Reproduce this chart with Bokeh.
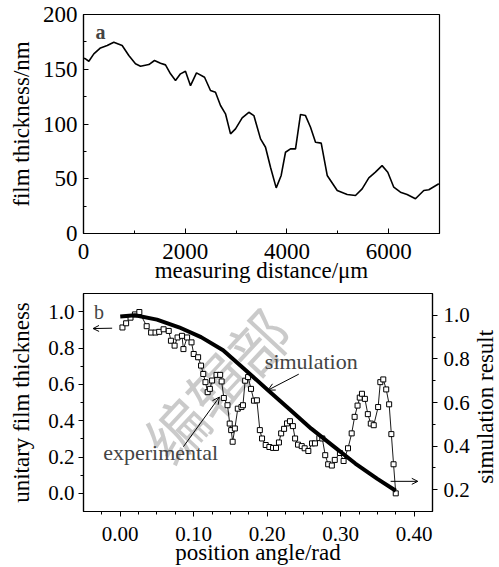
import math
from bokeh.plotting import figure
from bokeh.layouts import column, row
from bokeh.models import (Range1d, LinearAxis, Arrow, OpenHead, Label, FixedTicker,
                          NumeralTickFormatter)
from bokeh.embed import file_html
from bokeh.resources import INLINE

# ---------------- data: panel a ----------------
dist_um = [0, 39, 105, 203, 334, 466, 596, 760, 891, 1022, 1121, 1285, 1396, 1514, 1612,
           1711, 1809, 1907, 2005, 2104, 2222, 2380, 2497, 2595, 2694, 2792, 2891, 2989,
           3120, 3251, 3350, 3481, 3579, 3677, 3789, 3887, 3972, 4070, 4169, 4267, 4365,
           4464, 4562, 4674, 4792, 4989, 5185, 5348, 5479, 5610, 5740, 5871, 5983, 6101,
           6232, 6363, 6527, 6691, 6790, 6987]
thickness_nm = [160, 159.5, 157.3, 164, 169.5, 171.7, 174.7, 171.7, 162.5, 155, 152.8, 154.3,
                158, 155.5, 154, 145.8, 139.7, 145.8, 148.2, 135, 146.7, 142.7, 130.6, 129,
                116.9, 109.3, 91, 95.6, 105.6, 110.7, 107.7, 86.4, 78.8, 60.5, 41.7, 53,
                74.2, 77.3, 77.3, 108.7, 107.7, 97, 83.4, 82.5, 53, 39.3, 35.6, 34.7, 40.8,
                50.8, 56, 62, 56, 42.3, 37.7, 35.6, 31.7, 39.3, 39.9, 45.4]
a_x_ticks = [0, 2000, 4000, 6000]
a_y_ticks = [0, 50, 100, 150, 200]

# ---------------- data: panel b ----------------
exp_angle = [0.003, 0.008, 0.014, 0.020, 0.026, 0.036, 0.042, 0.048, 0.053, 0.059, 0.066,
             0.069, 0.074, 0.078, 0.084, 0.086, 0.091, 0.097, 0.100, 0.106, 0.110, 0.113,
             0.116, 0.119, 0.122, 0.125, 0.131, 0.136, 0.138, 0.141, 0.146, 0.149, 0.151,
             0.153, 0.156, 0.160, 0.165, 0.167, 0.170, 0.174, 0.178, 0.182, 0.186, 0.190,
             0.193, 0.198, 0.203, 0.208, 0.212, 0.216, 0.219, 0.223, 0.227, 0.231, 0.235,
             0.238, 0.242, 0.247, 0.251, 0.256, 0.261, 0.265, 0.271, 0.275, 0.279, 0.283,
             0.288, 0.292, 0.299, 0.304, 0.310, 0.315, 0.319, 0.323, 0.326, 0.329, 0.333,
             0.337, 0.341, 0.345, 0.351, 0.354, 0.358, 0.362, 0.366, 0.369, 0.372, 0.375]
exp_thick = [0.913, 0.936, 0.967, 0.985, 0.998, 0.920, 0.885, 0.885, 0.889, 0.903, 0.894,
             0.840, 0.813, 0.858, 0.867, 0.794, 0.858, 0.831, 0.767, 0.749, 0.703, 0.657,
             0.612, 0.557, 0.575, 0.621, 0.652, 0.652, 0.616, 0.525, 0.485, 0.384, 0.348,
             0.284, 0.357, 0.466, 0.475, 0.485, 0.620, 0.640, 0.575, 0.510, 0.512, 0.348,
             0.302, 0.266, 0.255, 0.250, 0.250, 0.280, 0.330, 0.355, 0.385, 0.397, 0.370,
             0.302, 0.268, 0.260, 0.248, 0.233, 0.275, 0.275, 0.304, 0.302, 0.210, 0.160,
             0.153, 0.184, 0.222, 0.178, 0.248, 0.330, 0.421, 0.483, 0.527, 0.548, 0.520,
             0.436, 0.384, 0.375, 0.475, 0.612, 0.627, 0.572, 0.490, 0.326, 0.160, 0.000]
sim_angle = [0.0, 0.02, 0.05, 0.08, 0.11, 0.14, 0.17, 0.20, 0.23, 0.26, 0.29, 0.32, 0.35, 0.375]
sim_result = [0.995, 1.0, 0.98, 0.945, 0.90, 0.84, 0.75, 0.66, 0.57, 0.48, 0.40, 0.32, 0.25, 0.195]
b_x_ticks = [0.0, 0.1, 0.2, 0.3, 0.4]
b_left_ticks = [0.0, 0.2, 0.4, 0.6, 0.8, 1.0]
b_right_ticks = [0.2, 0.4, 0.6, 0.8, 1.0]

SERIF = "Liberation Serif"


def style_axis(ax, tick_size, label_size, inward, label_standoff, title_standoff):
    ax.axis_line_color = "black"
    ax.axis_line_width = 1.2
    ax.major_tick_line_color = "black"
    ax.minor_tick_line_color = "black"
    if inward:
        ax.major_tick_in, ax.major_tick_out = 5, 0
        ax.minor_tick_in, ax.minor_tick_out = 3, 0
    else:
        ax.major_tick_in, ax.major_tick_out = 0, 5
        ax.minor_tick_in, ax.minor_tick_out = 0, 3
    ax.major_label_text_font = SERIF
    ax.major_label_text_font_size = tick_size
    ax.major_label_text_color = "black"
    ax.major_label_standoff = label_standoff
    ax.axis_label_text_font = SERIF
    ax.axis_label_text_font_size = label_size
    ax.axis_label_text_font_style = "normal"
    ax.axis_label_text_color = "black"
    ax.axis_label_standoff = title_standoff


# ---------------- panel a ----------------
p1 = figure(frame_width=356, frame_height=219, x_range=Range1d(0, 7000), y_range=Range1d(0, 200),
            min_border_left=83, min_border_right=12, min_border_top=14, min_border_bottom=51,
            output_backend="svg", toolbar_location=None)
p1.grid.visible = False
p1.outline_line_color = "black"
p1.outline_line_width = 1.2
p1.xaxis.ticker = FixedTicker(ticks=a_x_ticks, minor_ticks=[1000, 3000, 5000, 7000])
p1.yaxis.ticker = FixedTicker(ticks=a_y_ticks, minor_ticks=[25, 75, 125, 175])
p1.xaxis.axis_label = "measuring distance/μm"
p1.yaxis.axis_label = "film thickness/nm"
style_axis(p1.xaxis[0], "23px", "23px", True, 10, -4)
style_axis(p1.yaxis[0], "23px", "23px", True, 6, 6)
p1.line(dist_um, thickness_nm, line_color="black", line_width=1.6)
p1.add_layout(Label(x=334, y=184, text="a", text_font=SERIF, text_font_size="20px",
                    text_font_style="bold", text_align="center", text_baseline="middle"))

# ---------------- panel b ----------------
p2 = figure(frame_width=349, frame_height=218, x_range=Range1d(-0.05, 0.425),
            y_range=Range1d(-0.1, 1.1),
            min_border_left=83, min_border_right=40, min_border_top=8, min_border_bottom=55,
            output_backend="svg", toolbar_location=None)
p2.grid.visible = False
p2.outline_line_color = "black"
p2.outline_line_width = 1.2
p2.extra_y_ranges = {"sim": Range1d(0.1, 1.1)}
right_axis = LinearAxis(y_range_name="sim")
p2.add_layout(right_axis, "right")

p2.xaxis[0].ticker = FixedTicker(ticks=b_x_ticks,
                                 minor_ticks=[-0.025, 0.025, 0.05, 0.075, 0.125, 0.15, 0.175,
                                              0.225, 0.25, 0.275, 0.325, 0.35, 0.375])
p2.xaxis[0].formatter = NumeralTickFormatter(format="0.00")
p2.yaxis[0].ticker = FixedTicker(ticks=b_left_ticks, minor_ticks=[0.1, 0.3, 0.5, 0.7, 0.9])
p2.yaxis[0].formatter = NumeralTickFormatter(format="0.0")
right_axis.ticker = FixedTicker(ticks=b_right_ticks, minor_ticks=[0.3, 0.5, 0.7, 0.9])
right_axis.formatter = NumeralTickFormatter(format="0.0")
p2.xaxis[0].axis_label = "position angle/rad"
p2.yaxis[0].axis_label = "unitary film thickness"
style_axis(p2.xaxis[0], "21px", "23px", False, 10, -4)
style_axis(p2.yaxis[0], "21px", "23px", False, 4, 11)
style_axis(right_axis, "21px", "23px", False, 6, 4)

# watermark
p2.add_layout(Label(x=0.13, y=0.60, text="编辑部", angle=0.82, text_font="Noto Sans CJK SC",
                    text_font_size="60px", text_color="#c4c4c4", text_alpha=0.9,
                    text_align="center", text_baseline="middle", level="underlay"))

p2.line(exp_angle, exp_thick, line_color="black", line_width=0.9)
p2.scatter(exp_angle, exp_thick, marker="square", size=5, fill_color="white",
           line_color="black", line_width=1)
p2.line(sim_angle, sim_result, y_range_name="sim", line_color="black", line_width=4)

p2.add_layout(Label(x=0.260, y=0.726, text="simulation", text_font=SERIF, text_font_size="22px",
                    text_align="center", text_baseline="middle"))
p2.add_layout(Label(x=0.055, y=0.225, text="experimental", text_font=SERIF,
                    text_font_size="22px", text_align="center", text_baseline="middle"))
p2.add_layout(Label(x=-0.029, y=1.0, text="b", text_font=SERIF, text_font_size="20px",
                    text_align="center", text_baseline="middle"))

p2.add_layout(Arrow(end=OpenHead(size=7, line_width=1), x_start=0.243, y_start=0.656,
                    x_end=0.201, y_end=0.568, line_width=1))
p2.add_layout(Arrow(end=OpenHead(size=7, line_width=1), x_start=0.086, y_start=0.257,
                    x_end=0.135, y_end=0.530, line_width=1))
p2.add_layout(Arrow(end=OpenHead(size=6, line_width=1), x_start=-0.011, y_start=0.909,
                    x_end=-0.037, y_end=0.907, line_width=1))
p2.add_layout(Arrow(end=OpenHead(size=6, line_width=1), x_start=0.368, y_start=0.066,
                    x_end=0.405, y_end=0.066, line_width=1))

# right-axis title strip (reads bottom to top, as in the reference)
pt = figure(frame_width=26, frame_height=218, x_range=Range1d(0, 1), y_range=Range1d(0, 1),
            min_border_left=0, min_border_right=0, min_border_top=8, min_border_bottom=55,
            output_backend="svg", toolbar_location=None)
pt.axis.visible = False
pt.grid.visible = False
pt.outline_line_color = None
pt.add_layout(Label(x=0.5, y=0.48, text="simulation result", angle=math.pi / 2,
                    text_font=SERIF, text_font_size="23px", text_color="black",
                    text_align="center", text_baseline="middle"))

layout = column(p1, row(p2, pt))
open("out.html", "w").write(file_html(layout, INLINE))
